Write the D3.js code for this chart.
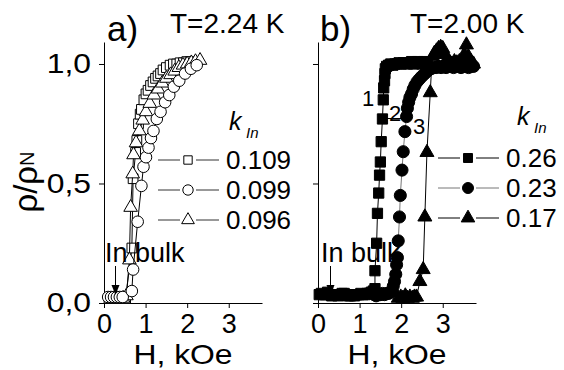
<!DOCTYPE html>
<meta charset="utf-8">
<style>
body { margin: 0; background: #fff; }
text { font-family: "Liberation Sans", Arial, sans-serif; fill: #000; }
.axis path, .axis line { stroke: #000; stroke-width: 1; }
</style>
<body>
<svg width="564" height="370"></svg>
<script src="https://cdn.jsdelivr.net/npm/d3@7"></script>
<script>

// panel a) T=2.24 K, open symbols
var aSquares = [[0.12,0.02],[0.2,0.02],[0.28,0.02],[0.36,0.02],[0.44,0.02],[0.52,0.02],[0.67,0.23],[0.70,0.52],
  [0.76,0.63],[0.79,0.68],[0.83,0.75],[0.87,0.79],[0.9,0.81],[0.96,0.85],[1.01,0.875],[1.06,0.89],[1.12,0.91],
  [1.18,0.925],[1.24,0.94],[1.30,0.95],[1.36,0.96],[1.42,0.975],[1.5,0.985],[1.59,0.995],[1.67,1.0],[1.75,1.0],
  [1.83,1.005],[1.91,1.005],[1.99,1.01],[2.07,1.01]];
var aCircles = [[0.1,0.025],[0.17,0.025],[0.24,0.025],[0.31,0.025],[0.38,0.025],[0.45,0.025],[0.67,0.05],[0.70,0.14],
  [0.81,0.34],[0.9,0.49],[0.95,0.57],[1.01,0.61],[1.07,0.65],[1.13,0.69],[1.19,0.72],[1.27,0.77],[1.36,0.80],
  [1.47,0.84],[1.57,0.87],[1.68,0.905],[1.81,0.93],[1.95,0.96],[2.09,0.98],[2.23,0.995]];
var aTriangles = [[0.46,0.02],[0.54,0.03],[0.61,0.18],[0.64,0.40],[0.69,0.54],[0.71,0.62],[0.77,0.67],[0.85,0.72],
  [0.93,0.765],[1.01,0.80],[1.1,0.835],[1.2,0.87],[1.3,0.895],[1.4,0.92],[1.5,0.94],[1.6,0.955],[1.7,0.97],
  [1.8,0.985],[1.9,0.995],[2.0,1.0],[2.1,1.005],[2.2,1.01],[2.31,1.015]];
var aKeys = ["0.109", "0.099", "0.096"];

// panel b) T=2.00 K, filled symbols
var bSquares = [[0.03,0.035],[0.08,0.04],[0.13,0.035],[0.18,0.035],[0.23,0.045],[0.28,0.035],[0.33,0.03],[0.38,0.035],
  [0.43,0.035],[0.48,0.03],[0.53,0.035],[0.58,0.04],[0.63,0.04],[0.68,0.035],[0.73,0.03],[0.78,0.03],[0.83,0.035],
  [0.88,0.03],[0.93,0.035],[0.98,0.035],[1.03,0.04],[1.08,0.035],[1.13,0.035],[1.18,0.04],[1.23,0.04],[1.28,0.045],
  [1.33,0.05],[1.37,0.06],[1.37,0.135],[1.41,0.25],[1.43,0.375],[1.46,0.46],[1.48,0.535],[1.50,0.59],[1.52,0.675],
  [1.55,0.77],[1.57,0.85],[1.58,0.9],[1.6,0.93],[1.61,0.96],[1.62,0.98],[1.65,0.99],[1.7,0.995],[1.75,1.0],
  [1.8,0.995],[1.85,1.0],[1.9,1.0],[1.95,1.005],[2.0,1.0],[2.05,1.005],[2.1,1.005],[2.15,1.0],[2.2,1.005],
  [2.25,1.01],[2.3,1.0],[2.35,1.005],[2.4,1.01],[2.45,1.005],[2.5,1.0],[2.55,1.01],[2.6,1.005]];
var bCircles = [[1.35,0.035],[1.4,0.03],[1.45,0.035],[1.5,0.035],[1.55,0.04],[1.6,0.035],[1.65,0.04],[1.7,0.04],
  [1.74,0.045],[1.78,0.05],[1.81,0.07],[1.84,0.09],[1.87,0.12],[1.89,0.16],[1.91,0.19],[1.93,0.26],[1.96,0.36],
  [1.98,0.45],[2.02,0.556],[2.05,0.633],[2.09,0.717],[2.13,0.78],[2.15,0.815],[2.18,0.84],[2.21,0.86],[2.25,0.875],
  [2.29,0.895],[2.33,0.91],[2.38,0.925],[2.43,0.935],[2.48,0.945],[2.54,0.955],[2.6,0.965],[2.66,0.975],[2.72,0.98],
  [2.78,0.985],[2.84,0.985],[2.9,0.99],[2.96,0.985],[3.02,0.99],[3.08,0.985],[3.14,0.99],[3.2,0.99],[3.26,0.985],
  [3.32,0.99],[3.38,0.99],[3.44,0.985],[3.5,0.99],[3.56,0.99],[3.62,0.985],[3.68,0.99],[3.74,0.99]];
var bTriangles = [[1.93,0.02],[1.99,0.025],[2.04,0.02],[2.1,0.03],[2.15,0.02],[2.21,0.025],[2.27,0.02],[2.32,0.025],
  [2.37,0.025],[2.45,0.09],[2.53,0.14],[2.57,0.36],[2.62,0.63],[2.7,0.88],[2.73,0.98],[2.76,1.03],[2.8,1.045],
  [2.85,1.055],[2.9,1.065],[2.95,1.07],[3.0,1.065],[3.05,1.04],[3.1,1.02],[3.16,1.01],[3.22,1.0],[3.28,1.01],
  [3.34,1.005],[3.4,1.01],[3.46,1.015],[3.52,1.04],[3.57,1.08],[3.62,1.03],[3.68,1.01],[3.74,1.0]];
var bKeys = ["0.26", "0.23", "0.17"];

var xMajor = [0, 1, 2, 3], xMinor = [0.5, 1.5, 2.5, 3.5];
var yMajor = [0, 0.5, 1.0], yMinor = [0.25, 0.75];
var bulkField = [0.27, 0.3];

var svg = d3.select("svg");
var y = d3.scaleLinear().domain([0, 1.092]).range([303, 42]);
var xa = d3.scaleLinear().domain([0, 3.8]).range([104, 262]);
var xb = d3.scaleLinear().domain([0, 3.8]).range([318, 476]);

function axes(x, withLabels) {
  var gx = svg.append("g").attr("class", "axis").attr("transform", "translate(0,303)");
  gx.call(d3.axisBottom(x).tickValues(xMinor).tickSize(3).tickSizeOuter(0).tickFormat(""));
  gx.call(d3.axisBottom(x).tickValues(xMajor).tickSize(5).tickSizeOuter(0).tickPadding(6)
    .tickFormat(d3.format("d")));
  gx.selectAll("text").attr("font-size", 27).attr("font-family", "Liberation Sans, Arial, sans-serif");

  var gy = svg.append("g").attr("class", "axis").attr("transform", "translate(" + x.range()[0] + ",0)");
  gy.call(d3.axisLeft(y).tickValues(yMinor).tickSize(3).tickSizeOuter(0).tickFormat(""));
  gy.call(d3.axisLeft(y).tickValues(yMajor).tickSize(5).tickSizeOuter(0).tickPadding(6)
    .tickFormat(withLabels ? function(d) { return d.toFixed(1).replace(".", ","); } : ""));
  // the original lettering is wider than Arial: stretch it sideways
  gy.selectAll("text").attr("font-size", 27).attr("transform", "scale(1.18,1)")
    .attr("font-family", "Liberation Sans, Arial, sans-serif");

  svg.append("text")
    .attr("transform", "translate(" + (x.range()[0] + x.range()[1]) / 2 + ",364) scale(1.18,1)")
    .attr("text-anchor", "middle")
    .attr("font-size", 27)
    .text("H, kOe");
}

function series(x, data, type, size, filled, lineColor) {
  svg.append("path")
    .datum(data)
    .attr("fill", "none")
    .attr("stroke", lineColor)
    .attr("stroke-width", 1)
    .attr("d", d3.line().x(function(d) { return x(d[0]); }).y(function(d) { return y(d[1]); }));
  svg.append("g").selectAll("path")
    .data(data)
    .enter().append("path")
      .attr("transform", function(d) { return "translate(" + x(d[0]) + "," + y(d[1]) + ")"; })
      .attr("d", d3.symbol().type(type).size(size))
      .attr("fill", filled ? "#000" : "#fff")
      .attr("stroke", "#000")
      .attr("stroke-width", 1);
}

function legendRow(x0, yc, type, size, filled, lineColor, label) {
  svg.append("line").attr("x1", x0).attr("x2", x0 + 22).attr("y1", yc).attr("y2", yc)
    .attr("stroke", lineColor);
  svg.append("line").attr("x1", x0 + 38).attr("x2", x0 + 61).attr("y1", yc).attr("y2", yc)
    .attr("stroke", lineColor);
  svg.append("path")
    .attr("transform", "translate(" + (x0 + 30) + "," + yc + ")")
    .attr("d", d3.symbol().type(type).size(size))
    .attr("fill", filled ? "#000" : "#fff")
    .attr("stroke", "#000");
  svg.append("text").attr("x", x0 + 68).attr("y", yc + 9).attr("font-size", 26).text(label);
}

function kIn(x0, y0) {
  svg.append("text").attr("x", x0).attr("y", y0).attr("font-size", 25).attr("font-style", "italic").text("k");
  svg.append("text").attr("x", x0 + 17).attr("y", y0 + 8).attr("font-size", 15).attr("font-style", "italic").text("In");
}

function inBulk(x, h, tx) {
  svg.append("text").attr("x", tx).attr("y", 262).attr("font-size", 27).text("In bulk");
  var px = Math.round(x(h)) + 0.5;
  svg.append("line").attr("x1", px).attr("x2", px).attr("y1", 266).attr("y2", 288).attr("stroke", "#000");
  svg.append("path").attr("d", "M" + (px - 4) + ",285L" + (px + 4) + ",285L" + px + ",295Z").attr("fill", "#000");
}

// panel a
axes(xa, true);
series(xa, aSquares, d3.symbolSquare, 95, false, "#000");
series(xa, aTriangles, d3.symbolTriangle, 80, false, "#000");
series(xa, aCircles, d3.symbolCircle, 105, false, "#000");
inBulk(xa, bulkField[0], 105);
kIn(229, 130);
legendRow(158, 160, d3.symbolSquare, 70, false, "#333", aKeys[0]);
legendRow(158, 190, d3.symbolCircle, 85, false, "#333", aKeys[1]);
legendRow(158, 220, d3.symbolTriangle, 70, false, "#333", aKeys[2]);
svg.append("text").attr("x", 107).attr("y", 41).attr("font-size", 35).text("a)");
svg.append("text").attr("x", 170).attr("y", 33).attr("font-size", 28).text("T=2.24 K");

// panel b
axes(xb, false);
series(xb, bSquares, d3.symbolSquare, 105, true, "#000");
series(xb, bCircles, d3.symbolCircle, 115, true, "#777");
series(xb, bTriangles, d3.symbolTriangle, 85, true, "#000");
inBulk(xb, bulkField[1], 321);
kIn(517, 125);
legendRow(438, 158, d3.symbolSquare, 80, true, "#000", bKeys[0]);
legendRow(438, 188, d3.symbolCircle, 95, true, "#777", bKeys[1]);
legendRow(438, 218, d3.symbolTriangle, 80, true, "#000", bKeys[2]);
svg.append("text").attr("x", 320).attr("y", 41).attr("font-size", 35).text("b)");
svg.append("text").attr("x", 410).attr("y", 33).attr("font-size", 28).text("T=2.00 K");

// curve numbers
svg.append("text").attr("x", 362).attr("y", 106).attr("font-size", 22).text("1");
svg.append("text").attr("x", 389).attr("y", 121).attr("font-size", 22).text("2");
svg.append("line").attr("x1", 386).attr("x2", 404).attr("y1", 118.5).attr("y2", 118.5).attr("stroke", "#000");
svg.append("text").attr("x", 413).attr("y", 134).attr("font-size", 22).text("3");

// y label
var yl = svg.append("text").attr("transform", "translate(37,182) rotate(-90)")
  .attr("text-anchor", "middle").attr("font-size", 33);
yl.append("tspan").text("ρ/ρ");
yl.append("tspan").attr("font-size", 20).attr("dy", -3).text("N");

</script>
</body>
